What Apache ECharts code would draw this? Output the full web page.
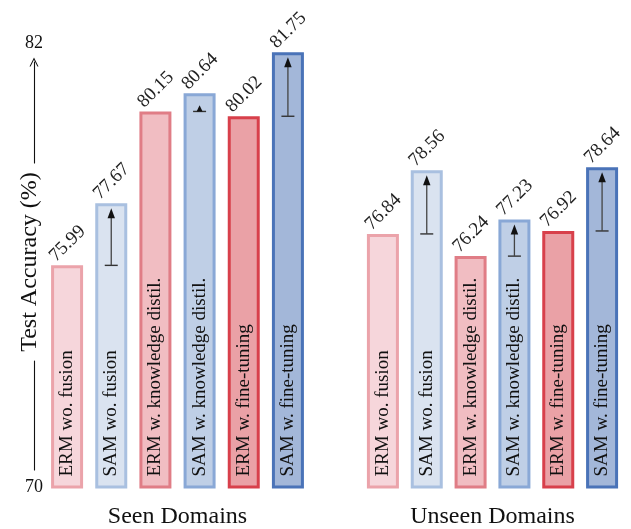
<!DOCTYPE html>
<html>
<head>
<meta charset="utf-8">
<script src="https://cdn.jsdelivr.net/npm/echarts@6/dist/echarts.min.js"></script>
<style>
  html, body { margin: 0; padding: 0; background: #fff; }
  #chart { width: 631px; height: 529px; }
</style>
</head>
<body>
<div id="chart"></div>
<script>
// ---- data ----
const categories = ['ERM wo. fusion', 'SAM wo. fusion', 'ERM w. knowledge distil.', 'SAM w. knowledge distil.', 'ERM w. fine-tuning', 'SAM w. fine-tuning'];
const seenValues = [75.99, 77.67, 80.15, 80.64, 80.02, 81.75];
const unseenValues = [76.84, 78.56, 76.24, 77.23, 76.92, 78.64];
const yTicks = [70, 82];
const groupNames = ['Seen Domains', 'Unseen Domains'];
const yTitle = 'Test Accuracy (%)';
// SAM bar index -> ERM baseline index (improvement arrows)
const arrowPairs = [[1, 0], [3, 2], [5, 4]];

// ---- styles ----
const fills = ['#f6d6db', '#dae3f0', '#f1bdc2', '#bfcfe6', '#eaa1a6', '#a3b7d9'];
const borders = ['#eba3aa', '#a9c0e0', '#e07d86', '#89a8d6', '#d8404b', '#4a73b8'];
const SERIF = '"Liberation Serif", "DejaVu Serif", serif';

const chart = echarts.init(document.getElementById('chart'), null, { renderer: 'canvas' });

function barData(values) {
  return values.map((v, i) => ({
    value: v,
    itemStyle: { color: fills[i], borderColor: borders[i] }
  }));
}
function arrowData(values) {
  return arrowPairs.map(([to, from]) => [to, values[from], values[to]]);
}

function renderArrow(params, api) {
  const x = api.value(0), a = api.value(1), b = api.value(2);
  const p0 = api.coord([x, a]);
  const p1 = api.coord([x, b]);
  const len = p0[1] - p1[1];
  const tipY = p1[1] + (len < 25 ? 12 : 5);
  const headH = Math.min(10, p0[1] - tipY);
  const headW = Math.max(6, headH * 0.75);
  const cx = p0[0];
  return {
    type: 'group',
    children: [
      { type: 'line', shape: { x1: cx - 6.5, y1: p0[1], x2: cx + 6.5, y2: p0[1] }, style: { stroke: '#333', lineWidth: 1.4 } },
      { type: 'line', shape: { x1: cx, y1: p0[1], x2: cx, y2: tipY + headH - 1 }, style: { stroke: '#444', lineWidth: 1.3 } },
      { type: 'polygon', shape: { points: [[cx, tipY], [cx - headW / 2, tipY + headH], [cx + headW / 2, tipY + headH]] }, style: { fill: '#111' } }
    ]
  };
}

function groupSeries(idx, values) {
  return [
    {
      type: 'bar', xAxisIndex: idx, yAxisIndex: idx,
      data: barData(values),
      barWidth: 32, barGap: '-100%',
      itemStyle: { borderWidth: 3 },
      label: {
        show: true, position: 'insideBottom', distance: 12,
        rotate: 90, align: 'left', verticalAlign: 'middle',
        formatter: p => categories[p.dataIndex],
        fontFamily: SERIF, fontSize: 19, color: '#111'
      },
      silent: true, z: 2
    },
    {
      type: 'bar', xAxisIndex: idx, yAxisIndex: idx,
      data: values,
      barWidth: 32, barGap: '-100%',
      itemStyle: { color: 'transparent' },
      label: {
        show: true, position: [8, 0],
        rotate: 45, align: 'left', verticalAlign: 'bottom',
        formatter: p => p.value.toFixed(2),
        fontFamily: SERIF, fontSize: 19, color: '#222'
      },
      silent: true, z: 3
    },
    {
      type: 'custom', xAxisIndex: idx, yAxisIndex: idx,
      data: arrowData(values),
      renderItem: renderArrow,
      encode: { x: 0, y: [1, 2] },
      silent: true, z: 5
    }
  ];
}

const hiddenX = (gridIndex, name) => ({
  type: 'category', gridIndex, data: categories,
  axisLine: { show: false }, axisTick: { show: false }, axisLabel: { show: false },
  splitLine: { show: false },
  name, nameLocation: 'middle', nameGap: 18,
  nameTextStyle: { fontFamily: SERIF, fontSize: 24, color: '#111' }
});
const blankX = gridIndex => ({ type: 'value', gridIndex, show: false });

const decoLine = (gridIndex, withArrow) => ({
  type: 'value', gridIndex, min: 0, max: 1,
  axisLine: {
    show: true,
    symbol: ['none', withArrow ? 'path://M0,10 L5,0 L10,10 L8.8,10 L5,2.4 L1.2,10 Z' : 'none'],
    symbolSize: [11, 9],
    symbolOffset: [0, 0],
    lineStyle: { color: '#111', width: 1.1 }
  },
  axisTick: { show: false }, axisLabel: { show: false }, splitLine: { show: false }
});

const G = { outerBoundsMode: 'none', containLabel: false };

const option = {
  backgroundColor: '#fff',
  animation: false,
  grid: [
    { ...G, left: 45, top: 43, width: 265, height: 444 },
    { ...G, left: 361, top: 43, width: 263, height: 444 },
    { ...G, left: 34, top: 62, width: 1, height: 101 },   // upper axis segment
    { ...G, left: 34, top: 361, width: 1, height: 109 },  // lower axis segment
    { ...G, left: 34, top: 63, width: 1, height: 398 }    // title holder
  ],
  xAxis: [
    hiddenX(0, groupNames[0]),
    hiddenX(1, groupNames[1]),
    blankX(2), blankX(3), blankX(4)
  ],
  yAxis: [
    {
      type: 'value', gridIndex: 0, min: yTicks[0], max: yTicks[yTicks.length - 1], interval: yTicks[1] - yTicks[0],
      axisLine: { show: false }, axisTick: { show: false }, splitLine: { show: false },
      axisLabel: { margin: 2, fontFamily: SERIF, fontSize: 18, color: '#111' }
    },
    {
      type: 'value', gridIndex: 1, min: yTicks[0], max: yTicks[yTicks.length - 1], interval: yTicks[1] - yTicks[0],
      show: false
    },
    decoLine(2, true),
    decoLine(3, false),
    {
      type: 'value', gridIndex: 4, min: 0, max: 1,
      axisLine: { show: false }, axisTick: { show: false }, axisLabel: { show: false }, splitLine: { show: false },
      name: yTitle, nameLocation: 'middle', nameRotate: 90, nameGap: 4,
      nameTextStyle: {
        fontFamily: SERIF, fontSize: 24, color: '#111',
        align: 'center', verticalAlign: 'middle'
      }
    }
  ],
  series: [
    ...groupSeries(0, seenValues),
    ...groupSeries(1, unseenValues)
  ]
};

chart.setOption(option);
</script>
</body>
</html>
